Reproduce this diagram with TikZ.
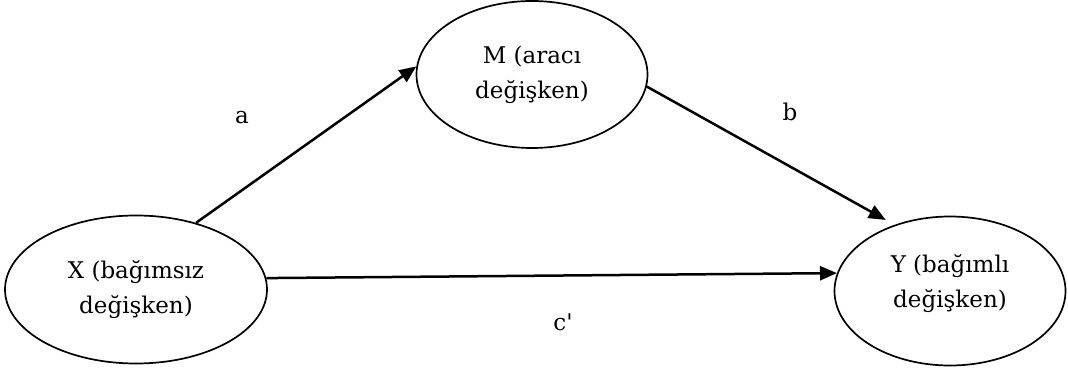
\documentclass[tikz,border=0pt]{standalone}
\usepackage{fontspec}
\setmainfont{DejaVu Serif}
\usetikzlibrary{arrows.meta,shapes.geometric}
\tikzset{
  var/.style={ellipse, draw=black, line width=1.7pt, inner sep=0pt, align=center,
    font=\fontsize{23}{35}\selectfont},
  conn/.style={line width=2.5pt, -{Triangle[length=17pt,width=14pt]}},
  lab/.style={font=\fontsize{23}{27}\selectfont, anchor=base, inner sep=0pt}
}
\begin{document}
\begin{tikzpicture}[x=1pt,y=-1pt]
\useasboundingbox (0,0) rectangle (1068,369);
\node[var, minimum width=231pt, minimum height=147pt] (M) at (532,74.5) {M (aracı\\değişken)};
\node[var, minimum width=262pt, minimum height=148pt] (X) at (136,289.5) {X (bağımsız\\değişken)};
\node[var, minimum width=231pt, minimum height=149pt,
      label={[font=\fontsize{23}{35}\selectfont, align=center, yshift=7pt]center:Y (bağımlı\\değişken)}] (Y) at (950,291) {};
\draw[conn] (X.48.8) -- (M.176.6);
\draw[conn, shorten >=10pt] (M.-6.4) -- (Y.130.4);
\draw[conn] (X.5) -- (Y.171);
\node[lab] (la) at (242,123) {a};
\node[lab] (lb) at (790,120) {b};
\node[lab] (lc) at (563,330) {c\textquotesingle};
\end{tikzpicture}
\end{document}
